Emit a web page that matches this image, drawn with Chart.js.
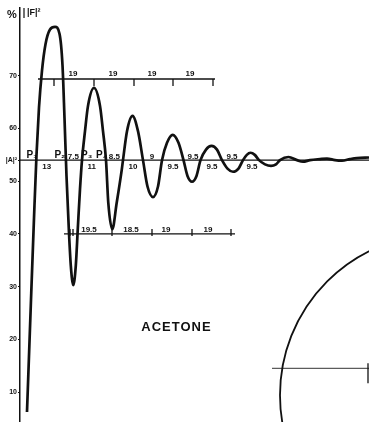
<!DOCTYPE html>
<html>
<head>
<meta charset="utf-8">
<script src="https://cdn.jsdelivr.net/npm/chart.js@4.4.1/dist/chart.umd.min.js"></script>
<style>
  html, body { margin: 0; padding: 0; background: #fff; }
  canvas { display: block; }
</style>
</head>
<body>
<canvas id="chart" width="369" height="422"></canvas>
<script>
"use strict";

// CURVE (x in arbitrary distance units, y in %)
const curveX = [7, 11, 14, 16.5, 19, 22, 25.5, 30, 35, 39.5, 42.5, 44.5, 46.5, 48.8, 50.8, 53.3, 55.8, 57.8, 60, 62, 65, 68, 74, 80, 83, 86, 88.3, 92.3, 96.7, 101.7, 103, 107, 112.5, 118, 123, 127.5, 133, 138, 142, 147, 152.7, 158.5, 163.5, 167.5, 172, 176.5, 180.5, 186, 191.5, 197, 202, 207.5, 213, 218.5, 223, 226.8, 230.5, 234.8, 239, 245, 251, 256, 260, 268.5, 277, 283, 290, 300, 307, 315, 322, 330, 337, 349];
const curveY = [6.2, 27.5, 43, 55, 64, 71, 76, 78.8, 79.3, 78, 72, 62, 51, 41, 34, 30.3, 34, 41, 48.5, 54, 59.5, 64.3, 67.7, 64.3, 59.5, 54, 45.9, 40.9, 45.9, 52.1, 54, 59.5, 62.4, 59.5, 54, 49, 47, 49, 54, 57.3, 58.8, 57.3, 54, 51, 49.9, 51, 54, 56, 56.7, 56, 54, 52.4, 51.8, 52.4, 54, 55, 55.4, 55, 54, 53.2, 52.9, 53.2, 54, 54.6, 54, 53.7, 54, 54.2, 54.3, 54, 53.9, 54.2, 54.4, 54.5];

// Y AXIS
const yTicks = [10, 20, 30, 40, 50, 54, 60, 70];
const yTickLabels = ["10", "20", "30", "40", "50", "|A|²", "60", "70"];

// REFERENCE LINES
const baselineLevel = 54;
const upperLevel = 69.4;
const upperSpan = [18, 195];
const upperTicks = [34, 74, 114, 153, 193];
const upperLabelX = [53, 93, 132, 170];
const upperLabels = ["19", "19", "19", "19"];

const lowerLevel = 40;
const lowerSpan = [44, 215];
const lowerTicks = [50, 53, 92, 132, 172, 211];
const lowerLabelX = [69, 111, 146, 188];
const lowerLabels = ["19.5", "18.5", "19", "19"];

const aboveLabelX = [12, 40, 53.3, 66.7, 81.7, 94.3, 132, 173, 212];
const aboveLabels = ["P₁", "P₂", "7.5", "P₃", "P₄", "8.5", "9", "9.5", "9.5"];
const belowLabelX = [26.7, 71.7, 113, 153, 192, 232];
const belowLabels = ["13", "11", "10", "9.5", "9.5", "9.5"];

// CIRCLE (bottom right)
const circleCenter = [421, 9.4];
const circleRadius = 161;
const radiusLevel = 14.5;
const radiusSpan = [252, 349];

const titleText = "ACETONE";
const titlePos = [156.5, 22.3];

const FONT = '"Liberation Sans", Arial, sans-serif';

const seg = (span, level) => span.map((v) => ({ x: v, y: level }));

const overlay = {
  id: "overlay",
  afterDatasetsDraw(chart) {
    const { ctx, chartArea } = chart;
    const xs = chart.scales.x;
    const ys = chart.scales.y;
    const px = (v) => xs.getPixelForValue(v);
    const py = (v) => ys.getPixelForValue(v);

    const line = (x1, y1, x2, y2) => {
      ctx.beginPath();
      ctx.moveTo(x1, y1);
      ctx.lineTo(x2, y2);
      ctx.stroke();
    };

    ctx.save();
    ctx.strokeStyle = "#111";
    ctx.fillStyle = "#111";
    ctx.lineWidth = 1.3;

    // ticks
    upperTicks.forEach((t) => line(px(t), py(upperLevel), px(t), py(upperLevel) + 7));
    lowerTicks.forEach((t) => line(px(t), py(lowerLevel) - 5, px(t), py(lowerLevel) + 2));
    line(px(radiusSpan[1] - 1), py(radiusLevel) - 5, px(radiusSpan[1] - 1), py(radiusLevel) + 15);

    // circle
    ctx.lineWidth = 1.8;
    ctx.beginPath();
    ctx.arc(px(circleCenter[0]), py(circleCenter[1]), circleRadius * (px(1) - px(0)), 0, Math.PI * 2);
    ctx.stroke();

    // labels
    ctx.textAlign = "center";
    ctx.textBaseline = "alphabetic";
    ctx.font = "bold 8px " + FONT;
    upperLabelX.forEach((v, i) => ctx.fillText(upperLabels[i], px(v), py(upperLevel) - 3));
    lowerLabelX.forEach((v, i) => ctx.fillText(lowerLabels[i], px(v), py(lowerLevel) - 2));

    aboveLabelX.forEach((v, i) => {
      const isP = aboveLabels[i].startsWith("P");
      ctx.font = (isP ? "bold 10px " : "bold 8px ") + FONT;
      ctx.fillText(aboveLabels[i], px(v), py(baselineLevel) - (isP ? 2 : 1));
    });
    ctx.font = "bold 8px " + FONT;
    ctx.textBaseline = "top";
    belowLabelX.forEach((v, i) => ctx.fillText(belowLabels[i], px(v), py(baselineLevel) + 3));

    ctx.textBaseline = "middle";
    ctx.font = "bold 13px " + FONT;
    ctx.letterSpacing = "1px";
    ctx.fillText(titleText, px(titlePos[0]), py(titlePos[1]));
    ctx.letterSpacing = "0px";

    // axis header
    ctx.textAlign = "left";
    ctx.font = "bold 11px " + FONT;
    ctx.fillText("%", chartArea.left - 13, 15);
    ctx.font = "bold 9px " + FONT;
    ctx.fillText("|F|²", chartArea.left + 7, 13);
    ctx.lineWidth = 1.2;
    line(chartArea.left + 4, 8, chartArea.left + 4, 18);
    ctx.restore();
  },
};

const ctx = document.getElementById("chart").getContext("2d");
const chart = new Chart(ctx, {
  type: "scatter",
  data: {
    datasets: [
      {
        data: seg([0, 349], baselineLevel),
        showLine: true,
        borderColor: "#111",
        borderWidth: 1.4,
        pointRadius: 0,
      },
      {
        data: seg(upperSpan, upperLevel),
        showLine: true,
        borderColor: "#111",
        borderWidth: 1.3,
        pointRadius: 0,
      },
      {
        data: seg(lowerSpan, lowerLevel),
        showLine: true,
        borderColor: "#111",
        borderWidth: 1.3,
        pointRadius: 0,
      },
      {
        data: seg(radiusSpan, radiusLevel),
        showLine: true,
        borderColor: "#333",
        borderWidth: 1,
        pointRadius: 0,
      },
      {
        data: curveX.map((v, i) => ({ x: v, y: curveY[i] })),
        showLine: true,
        borderColor: "#111",
        borderWidth: 2.7,
        pointRadius: 0,
        cubicInterpolationMode: "monotone",
      },
    ],
  },
  options: {
    responsive: false,
    animation: false,
    layout: { padding: { top: 8, right: 0, bottom: 0, left: 0 } },
    plugins: {
      legend: { display: false },
      tooltip: { enabled: false },
    },
    scales: {
      x: { type: "linear", min: 0, max: 349, display: false },
      y: {
        type: "linear",
        min: 4.31,
        max: 82.87,
        border: { color: "#111", width: 1.5 },
        grid: { drawOnChartArea: false, tickLength: 2, color: "#111" },
        afterBuildTicks: (scale) => {
          scale.ticks = yTicks.map((v) => ({ value: v }));
        },
        afterFit: (scale) => {
          scale.width = 20;
          scale.paddingTop = 0;
          scale.paddingBottom = 0;
        },
        ticks: {
          padding: 1,
          color: "#111",
          font: { family: FONT, size: 7, weight: "bold" },
          callback: (value) => {
            const i = yTicks.indexOf(value);
            return i >= 0 ? yTickLabels[i] : "";
          },
        },
      },
    },
  },
  plugins: [overlay],
});
</script>
</body>
</html>
